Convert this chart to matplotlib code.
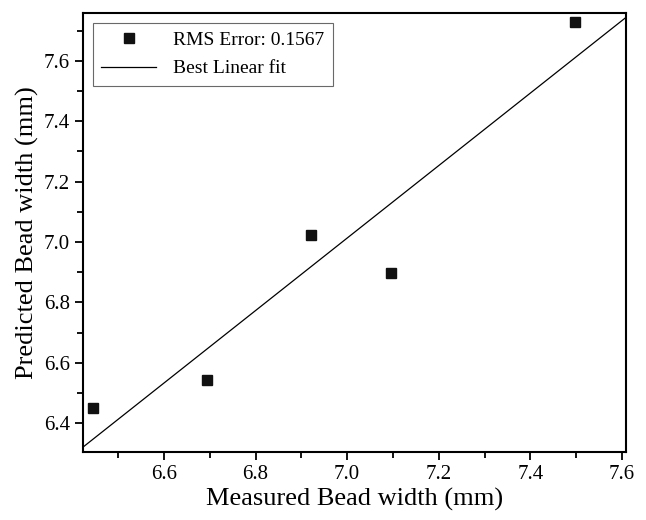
import numpy as np
import matplotlib
matplotlib.use("Agg")
import matplotlib.pyplot as plt
from matplotlib.ticker import MultipleLocator

# values
measured = [6.444, 6.693, 6.920, 7.095, 7.498]
predicted = [6.451, 6.544, 7.024, 6.898, 7.728]
rms_label = "RMS Error: 0.1567"
fit_label = "Best Linear fit"

x_lim = (6.423, 7.609)
y_lim = (6.304, 7.759)

plt.rcParams['font.family'] = ['Liberation Serif', 'DejaVu Serif']

fig = plt.figure(figsize=(6.46, 5.2), dpi=100)
ax = fig.add_axes([0.1285, 0.1308, 0.8405, 0.8442])

ax.plot(measured, predicted, linestyle='none', marker='s', markersize=7,
        color='#111111', label=rms_label)

# least squares line across the whole x range
slope, intercept = np.polyfit(measured, predicted, 1)
xs = np.array(x_lim)
ax.plot(xs, slope * xs + intercept, color='black', linewidth=0.9, label=fit_label)

ax.set_xlim(*x_lim)
ax.set_ylim(*y_lim)
ax.xaxis.set_major_locator(MultipleLocator(0.2))
ax.xaxis.set_minor_locator(MultipleLocator(0.1))
ax.yaxis.set_major_locator(MultipleLocator(0.2))
ax.yaxis.set_minor_locator(MultipleLocator(0.1))
ax.xaxis.set_major_formatter(plt.FuncFormatter(lambda v, p: f"{v:.1f}"))
ax.yaxis.set_major_formatter(plt.FuncFormatter(lambda v, p: f"{v:.1f}"))

ax.tick_params(which='major', direction='out', length=6, width=1.3, labelsize=15)
ax.tick_params(which='minor', direction='out', length=4, width=1.3)
for s in ax.spines.values():
    s.set_linewidth(1.5)

ax.set_xlabel("Measured Bead width (mm)", fontsize=19, labelpad=3)
ax.set_ylabel("Predicted Bead width (mm)", fontsize=19, labelpad=3)

leg = ax.legend(loc='upper left', fontsize=14, frameon=True, fancybox=False,
                borderaxespad=0.5, handlelength=2.8, handletextpad=0.9,
                borderpad=0.45, labelspacing=0.55)
leg.get_frame().set_edgecolor('#444444')
leg.get_frame().set_linewidth(0.8)

fig.savefig("out.png", dpi=100)
